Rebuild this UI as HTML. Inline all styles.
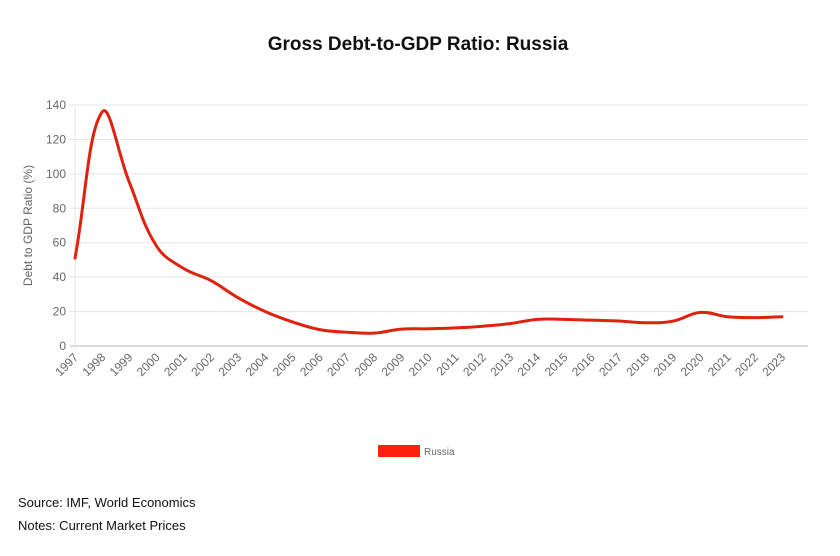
<!DOCTYPE html>
<html><head><meta charset="utf-8"><style>
body{margin:0;background:#fff;font-family:"Liberation Sans",sans-serif;}
#wrap{position:relative;width:840px;height:556px;overflow:hidden;}
.t{position:absolute;}
</style></head><body>
<div id="wrap">
<div class="t" style="left:0;width:836px;top:34px;text-align:center;font-size:19px;font-weight:bold;color:#111;">Gross Debt-to-GDP Ratio: Russia</div>
<svg id="chart" width="840" height="556" style="position:absolute;left:0;top:0"></svg>
<div class="t" style="left:18px;top:495px;font-size:13px;color:#111;">Source: IMF, World Economics</div>
<div class="t" style="left:18px;top:518px;font-size:13px;color:#111;">Notes: Current Market Prices</div>
</div>
<script>
const years=["1997","1998","1999","2000","2001","2002","2003","2004","2005","2006","2007","2008","2009","2010","2011","2012","2013","2014","2015","2016","2017","2018","2019","2020","2021","2022","2023"];
const russia=[51,136,95,58,45,38,28,20,14,9.5,8,7.5,9.8,10,10.5,11.5,13,15.5,15.5,15,14.5,13.5,14.5,19.5,17,16.5,17];
const yTicks=[0,20,40,60,80,100,120,140];
const NS="http://www.w3.org/2000/svg";
const svg=document.getElementById('chart');
const x0=75,x1=782,y0=346,y1=105,yMax=140,gridR=808;
const xs=i=>x0+(x1-x0)*i/(years.length-1);
const ys=v=>y0-(y0-y1)*v/yMax;
function mk(t,a){const e=document.createElementNS(NS,t);for(const k in a)e.setAttribute(k,a[k]);svg.appendChild(e);return e;}
yTicks.forEach(v=>{
 const l=mk('line',{x1:x0-5,x2:gridR,y1:ys(v),y2:ys(v),stroke:v===0?'#bbb':'#e5e5e5','stroke-width':1});
 
 
 const t=mk('text',{x:x0-9,y:ys(v)+4,'text-anchor':'end','font-size':12,fill:'#666','font-family':'Liberation Sans'});
 t.textContent=v;
 
 
});
const ax=mk('line',{x1:x0,x2:x0,y1:y1,y2:y0+5,stroke:'#e5e5e5'});


years.forEach((y,i)=>{
 const x=xs(i);
 const t=mk('text',{x:x+4,y:y0+12,'text-anchor':'end','font-size':12,fill:'#666','font-family':'Liberation Sans',transform:`rotate(-45 ${x+4} ${y0+12})`});
 t.textContent=y;
 
 
});
const yt=mk('text',{x:0,y:0,'text-anchor':'middle','font-size':12,fill:'#666','font-family':'Liberation Sans',transform:`translate(32 ${(y0+y1)/2}) rotate(-90)`});
yt.textContent='Debt to GDP Ratio (%)';


// spline (Chart.js style tension 0.4)
const pts=russia.map((v,i)=>[xs(i),ys(v)]);
const T=0.4;let d=`M${pts[0][0]},${pts[0][1]}`;
function cps(i){const p=pts[Math.max(i-1,0)],c=pts[i],n=pts[Math.min(i+1,pts.length-1)];
 const d01=Math.hypot(c[0]-p[0],c[1]-p[1]),d12=Math.hypot(n[0]-c[0],n[1]-c[1]);
 let fa=d01/(d01+d12)||0,fb=d12/(d01+d12)||0;fa*=T;fb*=T;
 return [[c[0]-fa*(n[0]-p[0]),c[1]-fa*(n[1]-p[1])],[c[0]+fb*(n[0]-p[0]),c[1]+fb*(n[1]-p[1])]];}
const C=pts.map((_,i)=>cps(i));
for(let i=1;i<pts.length;i++){const a=C[i-1][1],b=C[i][0];d+=` C${a[0]},${a[1]} ${b[0]},${b[1]} ${pts[i][0]},${pts[i][1]}`;}
const path=mk('path',{d:d,fill:'none',stroke:'#e0210d','stroke-width':3,'stroke-linejoin':'round','stroke-linecap':'round'});


const lb=mk('rect',{x:378,y:445,width:42,height:12,fill:'#ff2010'});


const lt=mk('text',{x:424,y:455,'font-size':10,fill:'#666','font-family':'Liberation Sans'});
lt.textContent='Russia';


</script>
</body></html>
